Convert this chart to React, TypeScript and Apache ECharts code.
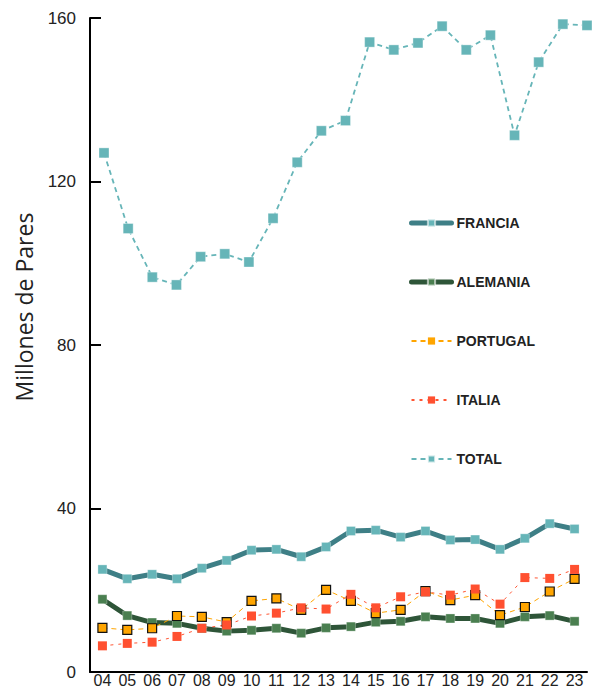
import React, { useEffect, useRef } from "react";
import * as echarts from "echarts";

const years = ["04","05","06","07","08","09","10","11","12","13","14","15","16","17","18","19","20","21","22","23"];
const totalYears = ["03","04","05","06","07","08","09","10","11","12","13","14","15","16","17","18","19","20","21","22","23"];

const francia = [25.1,22.8,23.9,22.8,25.4,27.3,29.8,30.0,28.2,30.6,34.5,34.7,33.0,34.5,32.3,32.4,30.0,32.7,36.3,35.0];
const alemania = [17.8,13.8,12.1,11.9,10.7,10.0,10.2,10.7,9.5,10.8,11.1,12.2,12.4,13.5,13.1,13.1,11.9,13.5,13.8,12.4];
const portugal = [10.8,10.3,10.7,13.7,13.5,12.2,17.4,18.0,15.2,20.1,17.4,14.4,15.2,19.8,17.6,18.8,13.9,15.9,19.7,22.8];
const italia = [6.4,7.0,7.3,8.7,10.7,11.5,13.7,14.4,15.7,15.4,19.0,15.7,18.4,19.6,18.8,20.3,16.6,23.1,22.9,25.1];
const total = [127.0,108.5,96.6,94.7,101.6,102.3,100.3,111.0,124.7,132.4,134.9,154.1,152.2,153.9,158.0,152.2,155.8,131.3,149.2,158.5,158.2];

const yTicks = { min: 0, max: 160, interval: 40 };
const yName = "Millones de Pares";

export default function App() {
  const ref = useRef<HTMLDivElement>(null);
  useEffect(() => {
    if (!ref.current) return;
    const chart = echarts.init(ref.current, null, { renderer: "svg" });
    const axisFont = "'Liberation Sans', Arial, sans-serif";
    const option: any = {
      animation: false,
      backgroundColor: "#ffffff",
      grid: [
        { left: 90, right: 11, top: 18, bottom: 17 },
        { left: 104, right: 11, top: 18, bottom: 17 },
      ],
      xAxis: [
        {
          type: "category",
          gridIndex: 0,
          data: years,
          boundaryGap: true,
          axisLine: { lineStyle: { color: "#000", width: 2 } },
          axisTick: { inside: true, length: 15, lineStyle: { color: "#000", width: 2 } },
          axisLabel: { color: "#222", fontSize: 16, lineHeight: 15, fontFamily: axisFont, margin: 1, interval: 0 },
          splitLine: { show: false },
        },
        {
          type: "category",
          gridIndex: 1,
          data: totalYears,
          boundaryGap: false,
          show: false,
        },
      ],
      yAxis: [
        {
          type: "value",
          gridIndex: 0,
          min: yTicks.min,
          max: yTicks.max,
          interval: yTicks.interval,
          axisLine: { show: true, lineStyle: { color: "#000", width: 2 } },
          axisTick: { show: true, inside: true, length: 11, lineStyle: { color: "#000", width: 2 } },
          axisLabel: { color: "#222", fontSize: 17, fontFamily: axisFont, margin: 14 },
          splitLine: { show: false },
        },
        {
          type: "value",
          gridIndex: 1,
          min: yTicks.min,
          max: yTicks.max,
          interval: yTicks.interval,
          show: false,
          splitLine: { show: false },
        },
      ],
      legend: {
        orient: "vertical",
        left: 404,
        top: 211,
        itemWidth: 40,
        itemHeight: 9,
        itemGap: 45,
        textStyle: { color: "#222", fontSize: 14, fontWeight: "bold", fontFamily: "'Liberation Sans', Arial, sans-serif" },
        data: [
          { name: "FRANCIA", lineStyle: { width: 5, cap: "round" } },
          { name: "ALEMANIA", lineStyle: { width: 5, cap: "round" } },
          { name: "PORTUGAL", itemStyle: { borderWidth: 0 } },
          { name: "ITALIA" },
          { name: "TOTAL" },
        ],
      },
      graphic: [
        {
          type: "text",
          x: 12,
          y: 307,
          rotation: Math.PI / 2,
          style: {
            text: yName,
            fill: "#222",
            font: "23px 'Open Sans', sans-serif",
            align: "center",
            verticalAlign: "top",
          },
        },
      ],
      series: [
        {
          name: "FRANCIA",
          type: "line",
          xAxisIndex: 0,
          yAxisIndex: 0,
          data: francia,
          symbol: "rect",
          symbolSize: 9,
          lineStyle: { color: "#3e7f86", width: 5 },
          itemStyle: { color: "#66b5b8", borderColor: "rgba(255,255,255,0.6)", borderWidth: 0.5 },
        },
        {
          name: "ALEMANIA",
          type: "line",
          xAxisIndex: 0,
          yAxisIndex: 0,
          data: alemania,
          symbol: "rect",
          symbolSize: 9,
          lineStyle: { color: "#2e5538", width: 5 },
          itemStyle: { color: "#4a7f50", borderColor: "rgba(255,255,255,0.6)", borderWidth: 0.5 },
        },
        {
          name: "PORTUGAL",
          type: "line",
          xAxisIndex: 0,
          yAxisIndex: 0,
          data: portugal,
          symbol: "rect",
          symbolSize: 9,
          lineStyle: { color: "#ffa500", width: 1, type: [5, 4] },
          itemStyle: { color: "#ffa500", borderColor: "#111", borderWidth: 1.2 },
        },
        {
          name: "ITALIA",
          type: "line",
          xAxisIndex: 0,
          yAxisIndex: 0,
          data: italia,
          symbol: "rect",
          symbolSize: 9,
          lineStyle: { color: "#ff5533", width: 1, type: [3, 5] },
          itemStyle: { color: "#ff5030" },
        },
        {
          name: "TOTAL",
          type: "line",
          xAxisIndex: 1,
          yAxisIndex: 1,
          data: total,
          symbol: "rect",
          symbolSize: 10,
          lineStyle: { color: "#66b5b8", width: 1.8, type: [5, 4] },
          itemStyle: { color: "#66b5b8", borderColor: "rgba(255,255,255,0.7)", borderWidth: 0.5 },
        },
      ],
    };
    chart.setOption(option);
    return () => chart.dispose();
  }, []);
  return <div ref={ref} style={{ position: "fixed", left: 0, top: 0, width: 598, height: 689 }} />;
}
